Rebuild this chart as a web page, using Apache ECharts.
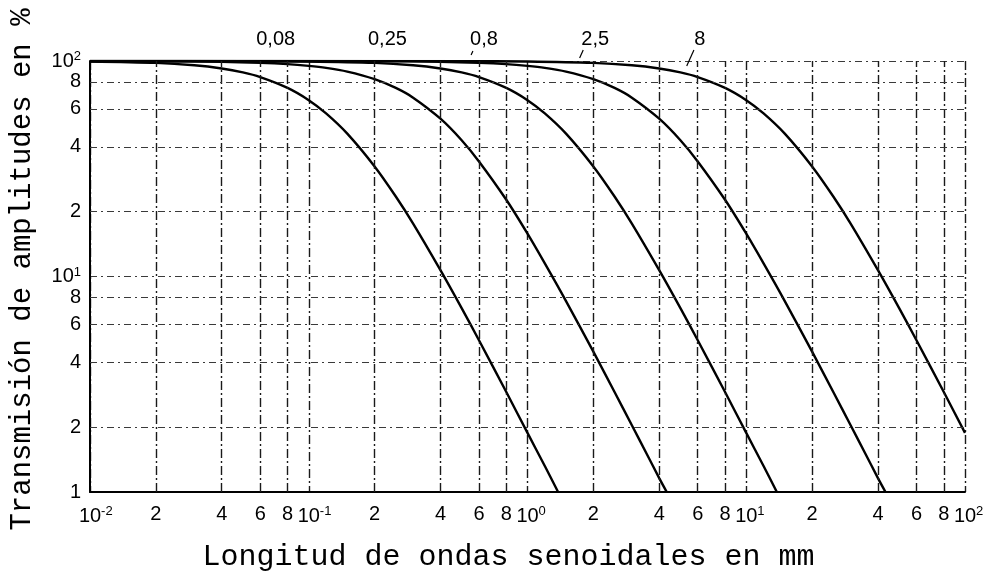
<!DOCTYPE html>
<html>
<head>
<meta charset="utf-8">
<script src="https://cdn.jsdelivr.net/npm/echarts@6/dist/echarts.min.js"></script>
<style>
  html, body { margin: 0; padding: 0; background: #ffffff; }
  #chart { width: 991px; height: 577px; }
</style>
</head>
<body>
<div id="chart"></div>
<script>
// Cut-off wavelengths (mm) shown above the curves
const cutoffLabels = ['0,08', '0,25', '0,8', '2,5', '8'];
// Where each cut-off label sits along the wavelength axis (mm)
const cutoffLabelAt = [0.0706, 0.229, 0.632, 2.04, 6.14];

// Amplitude transmission (%) versus sinusoidal wavelength (mm), one list per cut-off
const curve008 = [
  [0.01, 99.5], [0.02, 98.0], [0.03, 95.5], [0.04, 92.3], [0.05, 88.5], [0.06, 84.2],
  [0.08, 75.0], [0.1, 65.8], [0.12, 57.1], [0.15, 46.0], [0.2, 32.4], [0.25, 23.5],
  [0.3, 17.6], [0.4, 10.7], [0.5, 7.13], [0.6, 5.06], [0.8, 2.91], [1.0, 1.88],
  [1.2, 1.32], [1.38, 1.0]
];
const curve025 = [
  [0.01, 99.9], [0.02, 99.8], [0.04, 99.2], [0.06, 98.1], [0.08, 96.7], [0.1, 94.9],
  [0.12, 92.9], [0.15, 89.3], [0.2, 82.4], [0.25, 75.0], [0.3, 67.6], [0.4, 54.0],
  [0.5, 42.9], [0.6, 34.2], [0.8, 22.7], [1.0, 15.8], [1.2, 11.5], [1.5, 7.69],
  [2.0, 4.48], [2.5, 2.91], [3.0, 2.04], [3.5, 1.51], [4.0, 1.16], [4.33, 1.0]
];
const curve08 = [
  [0.01, 100], [0.05, 99.9], [0.1, 99.5], [0.2, 98.0], [0.3, 95.5], [0.4, 92.3],
  [0.5, 88.5], [0.6, 84.2], [0.8, 75.0], [1.0, 65.8], [1.2, 57.1], [1.5, 46.0],
  [2.0, 32.4], [2.5, 23.5], [3.0, 17.6], [4.0, 10.7], [5.0, 7.13], [6.0, 5.06],
  [8.0, 2.91], [10, 1.88], [12, 1.32], [13.8, 1.0]
];
const curve25 = [
  [0.01, 100], [0.2, 99.8], [0.4, 99.2], [0.6, 98.1], [0.8, 96.7], [1.0, 94.9],
  [1.2, 92.9], [1.5, 89.3], [2.0, 82.4], [2.5, 75.0], [3.0, 67.6], [4.0, 54.0],
  [5.0, 42.9], [6.0, 34.2], [8.0, 22.7], [10, 15.8], [12, 11.5], [15, 7.69],
  [20, 4.48], [25, 2.91], [30, 2.04], [35, 1.51], [40, 1.16], [43.3, 1.0]
];
const curve8 = [
  [0.01, 100], [0.5, 99.9], [1.0, 99.5], [2.0, 98.0], [3.0, 95.5], [4.0, 92.3],
  [5.0, 88.5], [6.0, 84.2], [8.0, 75.0], [10, 65.8], [12, 57.1], [15, 46.0],
  [20, 32.4], [25, 23.5], [30, 17.6], [40, 10.7], [50, 7.13], [60, 5.06],
  [80, 2.91], [100, 1.88]
];

// Intermediate grid values inside each decade
const xSubTicks = [0.02, 0.04, 0.06, 0.08, 0.2, 0.4, 0.6, 0.8, 2, 4, 6, 8, 20, 40, 60, 80];
const ySubTicks = [2, 4, 6, 8, 20, 40, 60, 80];

const curves = [curve008, curve025, curve08, curve25, curve8];

const tickFont = 'Liberation Sans, Arial, sans-serif';
const titleFont = 'Liberation Mono, DejaVu Sans Mono, monospace';

function mantissa(v) {
  const e = Math.floor(Math.log10(v) + 1e-9);
  return String(Math.round(v / Math.pow(10, e)));
}
function exponent(v) {
  return Math.round(Math.log10(v));
}

const gridStyleV = { color: '#1a1a1a', width: 1.4, type: [9, 3, 2, 3] };
const gridStyleH = { color: '#3a3a3a', width: 1.1, type: [7, 4, 2, 4] };

const supRich = {
  s: { fontSize: 13, fontFamily: tickFont, color: '#000', verticalAlign: 'top', padding: [0, 0, 9, 0], lineHeight: 14 },
  h: { fontSize: 13, fontFamily: tickFont, color: 'transparent', verticalAlign: 'top', padding: [0, 0, 9, 0], lineHeight: 14 },
  b: { fontSize: 20, fontFamily: tickFont, color: '#000', lineHeight: 22 }
};

const chart = echarts.init(document.getElementById('chart'), null, { renderer: 'canvas' });

const option = {
  backgroundColor: '#ffffff',
  animation: false,
  grid: { left: 89, right: 26, top: 61, bottom: 81, containLabel: false },
  xAxis: {
    type: 'log',
    logBase: 10,
    min: 0.01,
    max: 100,
    name: 'Longitud de ondas senoidales en mm',
    nameLocation: 'middle',
    nameGap: 50,
    nameTextStyle: { fontFamily: titleFont, fontSize: 30, color: '#000', padding: [0, 38, 0, 0] },
    axisLine: { show: true, onZero: false, lineStyle: { color: '#000', width: 2 } },
    axisTick: { show: false },
    axisLabel: {
      margin: 13,
      formatter: function (v) {
        const e = exponent(v);
        return '{h|' + e + '}{b|10}{s|' + e + '}';
      },
      rich: supRich
    },
    splitLine: { show: true, lineStyle: gridStyleV },
    minorSplitLine: { show: false }
  },
  yAxis: {
    type: 'log',
    logBase: 10,
    min: 1,
    max: 100,
    name: 'Transmisión de amplitudes en %',
    nameLocation: 'middle',
    nameRotate: 90,
    nameGap: 53,
    nameTextStyle: { fontFamily: titleFont, fontSize: 29, color: '#000', padding: [0, 0, 0, 14] },
    axisLine: { show: true, onZero: false, lineStyle: { color: '#000', width: 2 } },
    axisTick: { show: false },
    axisLabel: {
      margin: 9,
      formatter: function (v) {
        const e = exponent(v);
        if (e === 0) return '{b|1}';
        return '{b|10}{s|' + e + '}';
      },
      rich: supRich
    },
    splitLine: { show: true, lineStyle: gridStyleH }
  },
  series: [
    {
      // Grid lines and intermediate tick labels inside each decade
      type: 'line',
      data: [[0.01, 1]],
      showSymbol: false,
      silent: true,
      lineStyle: { width: 0 },
      z: 1,
      markLine: {
        silent: true,
        symbol: ['none', 'none'],
        animation: false,
        data: xSubTicks.map(v => ({
          xAxis: v,
          lineStyle: gridStyleV,
          label: {
            show: true,
            position: 'start',
            distance: 12,
            formatter: mantissa(v),
            fontFamily: tickFont,
            fontSize: 20,
            color: '#000'
          }
        })).concat(ySubTicks.map(v => ({
          yAxis: v,
          lineStyle: gridStyleH,
          label: {
            show: true,
            position: 'start',
            distance: 9,
            formatter: mantissa(v),
            fontFamily: tickFont,
            fontSize: 20,
            color: '#000'
          }
        })))
      }
    }
  ].concat(curves.map((c, i) => ({
    name: cutoffLabels[i],
    type: 'line',
    data: c,
    smooth: 0.3,
    showSymbol: false,
    clip: true,
    z: 3,
    lineStyle: { color: '#000', width: 2.4 }
  })))
};

chart.setOption(option);

// Cut-off labels above the curves, placed through the axis scales
const topPx = chart.convertToPixel({ gridIndex: 0 }, [1, 100])[1];
const graphics = [];
cutoffLabels.forEach((t, i) => {
  const x = chart.convertToPixel({ gridIndex: 0 }, [cutoffLabelAt[i], 100])[0];
  graphics.push({
    type: 'text',
    x: x,
    y: topPx - 22,
    style: {
      text: t,
      fontFamily: tickFont,
      fontSize: 20,
      fill: '#000',
      align: 'center',
      verticalAlign: 'middle'
    }
  });
});
// Short leader strokes from some labels down to their curves
[[2, -11, 10, 4], [3, -12, 11, 8], [4, -6, 11, 16]].forEach(([i, dx, dy, len]) => {
  const x = chart.convertToPixel({ gridIndex: 0 }, [cutoffLabelAt[i], 100])[0] + dx;
  const y0 = topPx - dy;
  graphics.push({
    type: 'line',
    shape: { x1: x, y1: y0, x2: x - len * 0.45, y2: y0 + len },
    style: { stroke: '#000', lineWidth: 1.2 }
  });
});
chart.setOption({ graphic: graphics });
</script>
</body>
</html>
